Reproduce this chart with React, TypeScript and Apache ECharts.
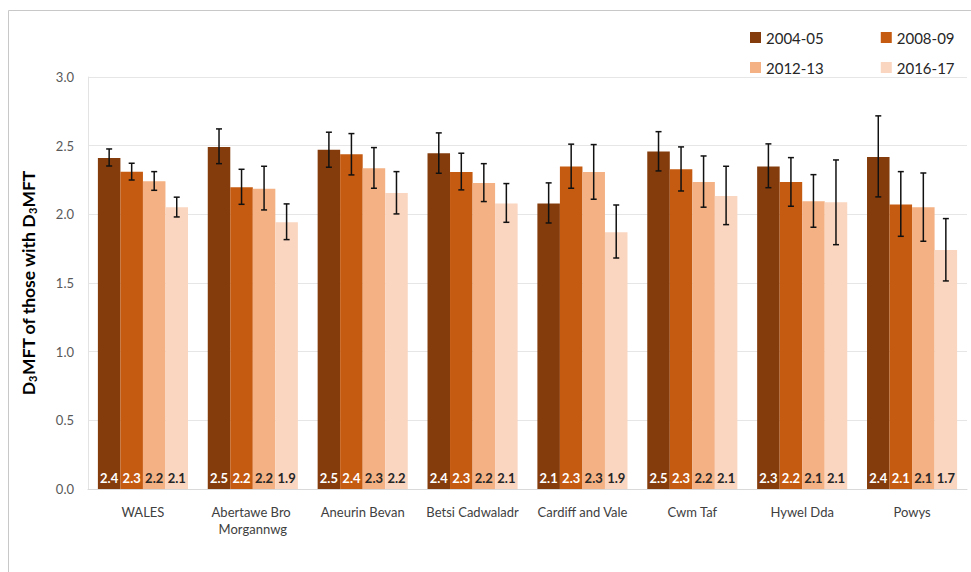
import React, { useEffect, useRef } from "react";
import * as echarts from "echarts";

const categories = [
  "WALES",
  "Abertawe Bro Morgannwg",
  "Aneurin Bevan",
  "Betsi Cadwaladr",
  "Cardiff and Vale",
  "Cwm Taf",
  "Hywel Dda",
  "Powys",
];

const years = ["2004-05", "2008-09", "2012-13", "2016-17"];
const colors = ["#843C0C", "#C55A11", "#F4B183", "#FAD5BF"];
const labelColors = ["#FFFFFF", "#FFFFFF", "#262626", "#262626"];

const v0405 = [2.41, 2.49, 2.47, 2.445, 2.078, 2.457, 2.348, 2.418];
const v0809 = [2.31, 2.197, 2.437, 2.309, 2.348, 2.328, 2.236, 2.071];
const v1213 = [2.241, 2.187, 2.336, 2.229, 2.309, 2.236, 2.095, 2.052];
const v1617 = [2.052, 1.942, 2.156, 2.078, 1.87, 2.134, 2.088, 1.741];

const lo0405 = [2.352, 2.369, 2.343, 2.299, 1.937, 2.316, 2.194, 2.127];
const hi0405 = [2.476, 2.622, 2.598, 2.593, 2.229, 2.602, 2.513, 2.717];
const lo0809 = [2.25, 2.073, 2.287, 2.178, 2.19, 2.17, 2.059, 1.84];
const hi0809 = [2.372, 2.328, 2.588, 2.445, 2.511, 2.491, 2.413, 2.311];
const lo1213 = [2.175, 2.032, 2.19, 2.093, 2.11, 2.052, 1.906, 1.804];
const hi1213 = [2.311, 2.35, 2.486, 2.369, 2.508, 2.425, 2.289, 2.301];
const lo1617 = [1.981, 1.816, 2.003, 1.942, 1.682, 1.925, 1.779, 1.515];
const hi1617 = [2.125, 2.076, 2.311, 2.224, 2.068, 2.35, 2.396, 1.969];

const yTicks = [0, 0.5, 1.0, 1.5, 2.0, 2.5, 3.0];

const values = [v0405, v0809, v1213, v1617];
const lows = [lo0405, lo0809, lo1213, lo1617];
const highs = [hi0405, hi0809, hi1213, hi1617];

const FONT = "Lato, 'Open Sans', sans-serif";
const CAT_GAP = 0.18;

export default function App() {
  const ref = useRef<HTMLDivElement>(null);

  useEffect(() => {
    if (!ref.current) return;
    const chart = echarts.init(ref.current, undefined, { renderer: "svg" });

    const barSeries = years.map((y, i) => ({
      name: y,
      type: "bar",
      data: values[i],
      barGap: "0%",
      barCategoryGap: CAT_GAP * 100 + "%",
      itemStyle: { color: colors[i] },
      label: {
        show: true,
        position: "insideBottom",
        distance: 5,
        color: labelColors[i],
        fontFamily: FONT,
        fontWeight: "bold",
        fontSize: 13,
        formatter: (p: any) => Number(p.value).toFixed(1),
      },
      z: 2,
    }));

    const errData: number[][] = [];
    for (let s = 0; s < 4; s++) {
      for (let c = 0; c < categories.length; c++) {
        errData.push([c, s, lows[s][c], highs[s][c]]);
      }
    }

    const errSeries = {
      type: "custom",
      name: "err",
      data: errData,
      encode: { x: 0, y: [2, 3] },
      z: 5,
      silent: true,
      renderItem: (params: any, api: any) => {
        const cat = api.value(0);
        const si = api.value(1);
        const lo = api.value(2);
        const hi = api.value(3);
        const band = api.size([1, 0])[0];
        const bw = (band * (1 - CAT_GAP)) / 4;
        const pLo = api.coord([cat, lo]);
        const pHi = api.coord([cat, hi]);
        const x = pLo[0] + (si - 1.5) * bw;
        const cap = 3;
        const style = { stroke: "#111111", lineWidth: 1.5 };
        return {
          type: "group",
          children: [
            { type: "line", shape: { x1: x, y1: pLo[1], x2: x, y2: pHi[1] }, style },
            { type: "line", shape: { x1: x - cap, y1: pLo[1], x2: x + cap, y2: pLo[1] }, style },
            { type: "line", shape: { x1: x - cap, y1: pHi[1], x2: x + cap, y2: pHi[1] }, style },
          ],
        };
      },
    };

    const legendBase = {
      orient: "horizontal",
      itemWidth: 11,
      itemHeight: 11,
      itemGap: 57,
      padding: 0,
      icon: "rect",
      textStyle: { fontFamily: FONT, fontSize: 15, color: "#262626" },
      selectedMode: false,
    };

    chart.setOption({
      animation: false,
      backgroundColor: "#FFFFFF",
      textStyle: { fontFamily: FONT },
      graphic: [
        {
          type: "rect",
          shape: { x: 8.5, y: 10.5, width: 1000, height: 1000 },
          style: { fill: "none", stroke: "#C8C8C8", lineWidth: 1 },
          silent: true,
          z: -10,
        },
      ],
      legend: [
        { ...legendBase, data: [years[0], years[1]], left: 750, top: 30 },
        { ...legendBase, data: [years[2], years[3]], left: 750, top: 60 },
      ],
      grid: { left: 88, right: 4, top: 77, bottom: 83, containLabel: false },
      xAxis: {
        type: "category",
        data: categories,
        axisLine: { show: true, lineStyle: { color: "#D9D9D9", width: 1 } },
        axisTick: { show: false },
        axisLabel: {
          color: "#404040",
          fontFamily: FONT,
          fontSize: 13,
          margin: 14,
          width: 104,
          overflow: "break",
          lineHeight: 17,
          interval: 0,
        },
      },
      yAxis: {
        type: "value",
        min: yTicks[0],
        max: yTicks[yTicks.length - 1],
        interval: 0.5,
        name: "{b|D}{s|3}{b|MFT of those with D}{s|3}{b|MFT}",
        nameLocation: "middle",
        nameGap: 50,
        nameRotate: 90,
        nameTextStyle: {
          rich: {
            b: { fontFamily: FONT, fontWeight: "bold", fontSize: 17.5, color: "#000000" },
            s: {
              fontFamily: FONT,
              fontWeight: "bold",
              fontSize: 11,
              color: "#000000",
              verticalAlign: "bottom",
              padding: [8, 0, 0, 0],
            },
          },
        },
        axisLine: { show: true, lineStyle: { color: "#E3E3E3", width: 1 } },
        axisTick: { show: false },
        splitLine: { show: true, lineStyle: { color: "#E6E6E6", width: 1 } },
        axisLabel: {
          color: "#595959",
          fontFamily: FONT,
          fontSize: 13,
          margin: 14,
          formatter: (v: number) => v.toFixed(1),
        },
      },
      series: [...barSeries, errSeries],
    });

    return () => chart.dispose();
  }, []);

  return (
    <div
      ref={ref}
      style={{ position: "fixed", left: 0, top: 0, width: 971, height: 572 }}
    />
  );
}
